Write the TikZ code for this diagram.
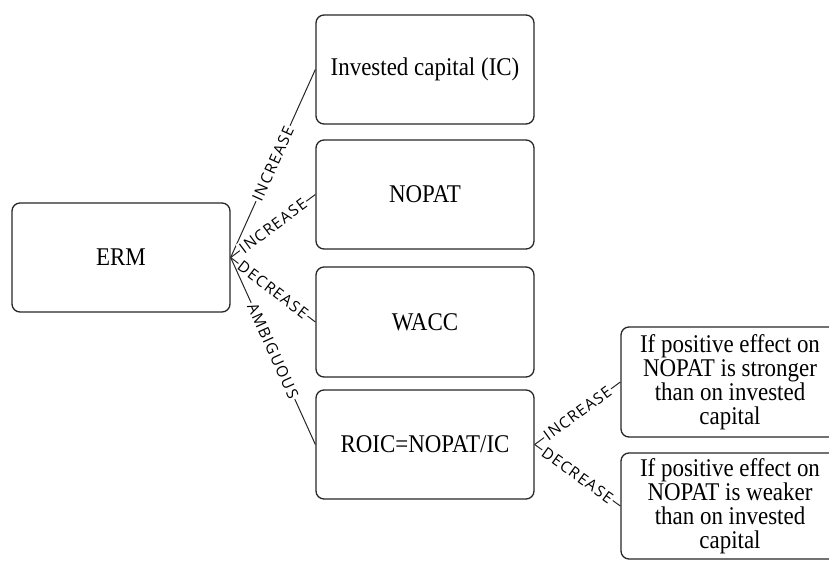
\documentclass[tikz,border=0pt]{standalone}
\usepackage{fontspec}
\setmainfont{Liberation Serif}[FakeStretch=0.9]
\newfontfamily\labfont[LetterSpace=8]{Open Sans}
\begin{document}
\begin{tikzpicture}[x=1pt,y=-1pt,
  box/.style={draw=black!85, line width=1.3pt, rounded corners=8pt,
    minimum width=218pt, minimum height=109pt, inner sep=0pt,
    align=center, font=\fontsize{25.5}{24}\selectfont},
  conn/.style={draw=black!85, line width=1pt},
  lab/.style={sloped, fill=white, inner sep=1.5pt,
    font=\labfont\fontsize{15.5}{16}\selectfont, text=black}]
\useasboundingbox (0,0) rectangle (829,561);
\clip (0,0) rectangle (829,561);
\node[box] (erm) at (121,257.5) {ERM};
\node[box] (ic) at (425,69.5) {Invested capital (IC)};
\node[box] (nopat) at (425,194.5) {NOPAT};
\node[box, minimum height=110pt] (wacc) at (425,322) {WACC};
\node[box] (roic) at (425,444.5) {ROIC=NOPAT/IC};
\node[box, minimum height=110pt] (pos) at (730,382)
  {If positive effect on\\NOPAT is stronger\\than on invested\\capital};
\node[box, minimum height=106pt] (neg) at (730,506)
  {If positive effect on\\NOPAT is weaker\\than on invested\\capital};
\draw[conn] (erm.east) -- node[lab]{INCREASE} (ic.west);
\draw[conn] (erm.east) -- node[lab]{INCREASE} (nopat.west);
\draw[conn] (erm.east) -- node[lab]{DECREASE} (wacc.west);
\draw[conn] (erm.east) -- node[lab]{AMBIGUOUS} (roic.west);
\draw[conn] (roic.east) -- node[lab]{INCREASE} (pos.west);
\draw[conn] (roic.east) -- node[lab]{DECREASE} (neg.west);
\end{tikzpicture}
\end{document}
